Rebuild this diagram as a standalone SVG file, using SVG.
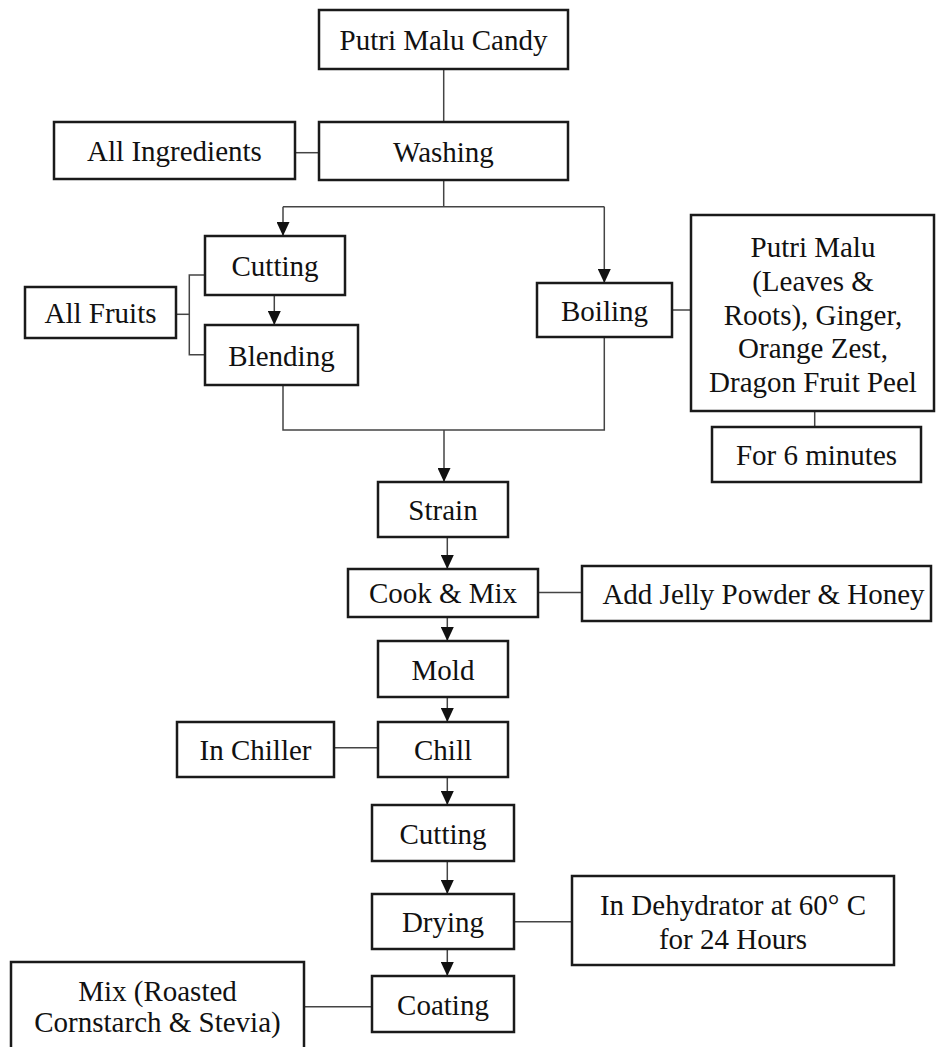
<svg xmlns="http://www.w3.org/2000/svg" width="936" height="1047" viewBox="0 0 936 1047">
<style>
.box{fill:#fff;stroke:#1a1a1a;stroke-width:2.5}
.t{font-family:"Liberation Serif","Times New Roman",serif;font-size:29px;fill:#111;text-anchor:middle}
.c{fill:none;stroke:#444;stroke-width:1.5}
</style>
<defs>
<marker id="ah" markerUnits="userSpaceOnUse" markerWidth="14" markerHeight="13" refX="14" refY="6.5" orient="auto">
<path d="M0,0 L14,6.5 L0,13 z" fill="#111"/>
</marker>
</defs>
<rect width="936" height="1047" fill="#fff"/>
<g id="connectors">
<line class="c" x1="443.7" y1="69" x2="443.7" y2="122"/>
<line class="c" x1="295" y1="152.7" x2="319" y2="152.7"/>
<polyline class="c" points="443.7,180 443.7,206.7"/>
<polyline class="c" points="283,206.7 604.3,206.7"/>
<line class="c" x1="283" y1="206.7" x2="283" y2="236" marker-end="url(#ah)"/>
<line class="c" x1="604.3" y1="206.7" x2="604.3" y2="283" marker-end="url(#ah)"/>
<line class="c" x1="274.3" y1="295" x2="274.3" y2="325" marker-end="url(#ah)"/>
<polyline class="c" points="176,314.3 189.3,314.3"/>
<polyline class="c" points="205,275 189.3,275 189.3,354.7 205,354.7"/>
<polyline class="c" points="283,385 283,430 604.3,430 604.3,337"/>
<line class="c" x1="444" y1="430" x2="444" y2="482" marker-end="url(#ah)"/>
<line class="c" x1="672" y1="310" x2="691" y2="310"/>
<line class="c" x1="814.7" y1="411" x2="814.7" y2="427"/>
<line class="c" x1="447.3" y1="537" x2="447.3" y2="569" marker-end="url(#ah)"/>
<line class="c" x1="538" y1="592.5" x2="582" y2="592.5"/>
<line class="c" x1="447.3" y1="617" x2="447.3" y2="641" marker-end="url(#ah)"/>
<line class="c" x1="447.3" y1="697" x2="447.3" y2="722" marker-end="url(#ah)"/>
<line class="c" x1="334" y1="747.7" x2="378" y2="747.7"/>
<line class="c" x1="447.3" y1="777" x2="447.3" y2="805" marker-end="url(#ah)"/>
<line class="c" x1="447.3" y1="861" x2="447.3" y2="894" marker-end="url(#ah)"/>
<line class="c" x1="514" y1="921.7" x2="572" y2="921.7"/>
<line class="c" x1="447.3" y1="949" x2="447.3" y2="976" marker-end="url(#ah)"/>
<line class="c" x1="304" y1="1006.7" x2="372" y2="1006.7"/>
</g>
<g id="candy"><rect class="box" x="319" y="10" width="249" height="59"/><text class="t" x="443.5" y="50">Putri Malu Candy</text></g>
<g id="washing"><rect class="box" x="319" y="122" width="249" height="58"/><text class="t" x="443.5" y="161.5">Washing</text></g>
<g id="all-ingredients"><rect class="box" x="54" y="122" width="241" height="57"/><text class="t" x="174.5" y="161">All Ingredients</text></g>
<g id="cutting1"><rect class="box" x="205" y="236" width="140" height="59"/><text class="t" x="275" y="276">Cutting</text></g>
<g id="blending"><rect class="box" x="205" y="325" width="153" height="60"/><text class="t" x="281.5" y="365.5">Blending</text></g>
<g id="all-fruits"><rect class="box" x="25" y="287" width="151" height="51"/><text class="t" x="100.5" y="323">All Fruits</text></g>
<g id="boiling"><rect class="box" x="537" y="283" width="135" height="54"/><text class="t" x="604.5" y="320.5">Boiling</text></g>
<g id="boil-ingredients"><rect class="box" x="691" y="215" width="243" height="196"/>
<text class="t" x="813" y="257">Putri Malu</text>
<text class="t" x="813" y="291">(Leaves &amp;</text>
<text class="t" x="813" y="324.5">Roots), Ginger,</text>
<text class="t" x="813" y="358">Orange Zest,</text>
<text class="t" x="813" y="392">Dragon Fruit Peel</text></g>
<g id="six-minutes"><rect class="box" x="712" y="427" width="209" height="55"/><text class="t" x="816.5" y="465">For 6 minutes</text></g>
<g id="strain"><rect class="box" x="378" y="482" width="130" height="55"/><text class="t" x="443" y="520">Strain</text></g>
<g id="cook-mix"><rect class="box" x="348" y="569" width="190" height="48"/><text class="t" x="443" y="603">Cook &amp; Mix</text></g>
<g id="add-jelly"><rect class="box" x="582" y="566" width="349" height="55"/><text class="t" x="763.5" y="604">Add Jelly Powder &amp; Honey</text></g>
<g id="mold"><rect class="box" x="378" y="641" width="130" height="56"/><text class="t" x="443" y="679.5">Mold</text></g>
<g id="chill"><rect class="box" x="378" y="722" width="130" height="55"/><text class="t" x="443" y="760">Chill</text></g>
<g id="in-chiller"><rect class="box" x="177" y="722" width="157" height="55"/><text class="t" x="255.5" y="760">In Chiller</text></g>
<g id="cutting2"><rect class="box" x="372" y="805" width="142" height="56"/><text class="t" x="443" y="843.5">Cutting</text></g>
<g id="drying"><rect class="box" x="372" y="894" width="142" height="55"/><text class="t" x="443" y="932">Drying</text></g>
<g id="dehydrator"><rect class="box" x="572" y="876" width="322" height="89"/>
<text class="t" x="733" y="915">In Dehydrator at 60° C</text>
<text class="t" x="733" y="948.5">for 24 Hours</text></g>
<g id="coating"><rect class="box" x="372" y="976" width="142" height="56"/><text class="t" x="443" y="1014.5">Coating</text></g>
<g id="mix"><rect class="box" x="11" y="962" width="293" height="100"/>
<text class="t" x="157.5" y="1001">Mix (Roasted</text>
<text class="t" x="157.5" y="1032">Cornstarch &amp; Stevia)</text></g>
</svg>
